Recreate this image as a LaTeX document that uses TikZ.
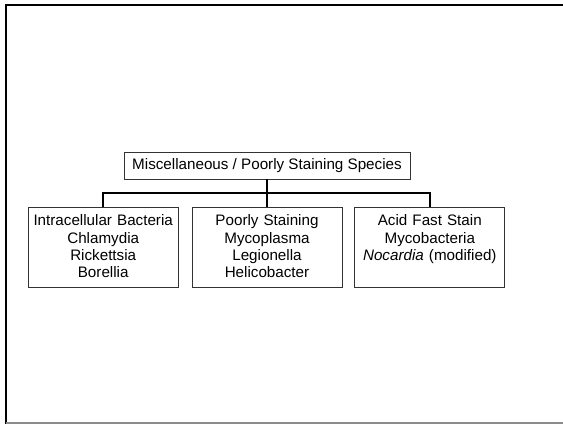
\documentclass[tikz,border=0pt]{standalone}
\usepackage{fontspec}
\setmainfont{Liberation Sans}
\usepackage{tikz}
\usetikzlibrary{positioning}

\tikzset{
  head/.style={draw=black!80, line width=0.8pt, minimum width=286pt, minimum height=27pt,
    inner sep=3pt, font=\fontsize{15.2}{17.3}\selectfont},
  leaf/.style={draw=black!80, line width=0.8pt, text width=142pt, align=center, inner sep=4pt,
    text height=14pt, text depth=58pt, font=\fontsize{15.2}{17.3}\selectfont},
  bus/.style={line width=2pt, black},
}

\begin{document}
\begin{tikzpicture}
                \useasboundingbox (0,0) rectangle (563pt,-424pt);
                % slide frame, right side cut off
                \draw[line width=1.8pt] (563pt,-5pt) -- (6pt,-5pt) -- (6pt,-424pt);
                \draw[black!45, line width=1.2pt] (6pt,-423pt) -- (563pt,-423pt);
                \node[head] (misc) at (267pt,-165.5pt) {Miscellaneous / Poorly Staining Species};
                \node[leaf, below=28pt of misc] (poor) {Poorly Staining\\Mycoplasma\\Legionella\\Helicobacter};
                \node[leaf, left=13pt of poor] (intra) {Intracellular Bacteria\\Chlamydia\\Rickettsia\\Borellia};
                \node[leaf, right=12pt of poor] (acid) {Acid Fast Stain\\Mycobacteria\\\textit{Nocardia} (modified)};
                \draw[bus] (misc.south) -- (poor.north);
                \draw[bus] (intra.north) -- ++(0,14pt) -| (acid.north);
            \end{tikzpicture}
\end{document}
